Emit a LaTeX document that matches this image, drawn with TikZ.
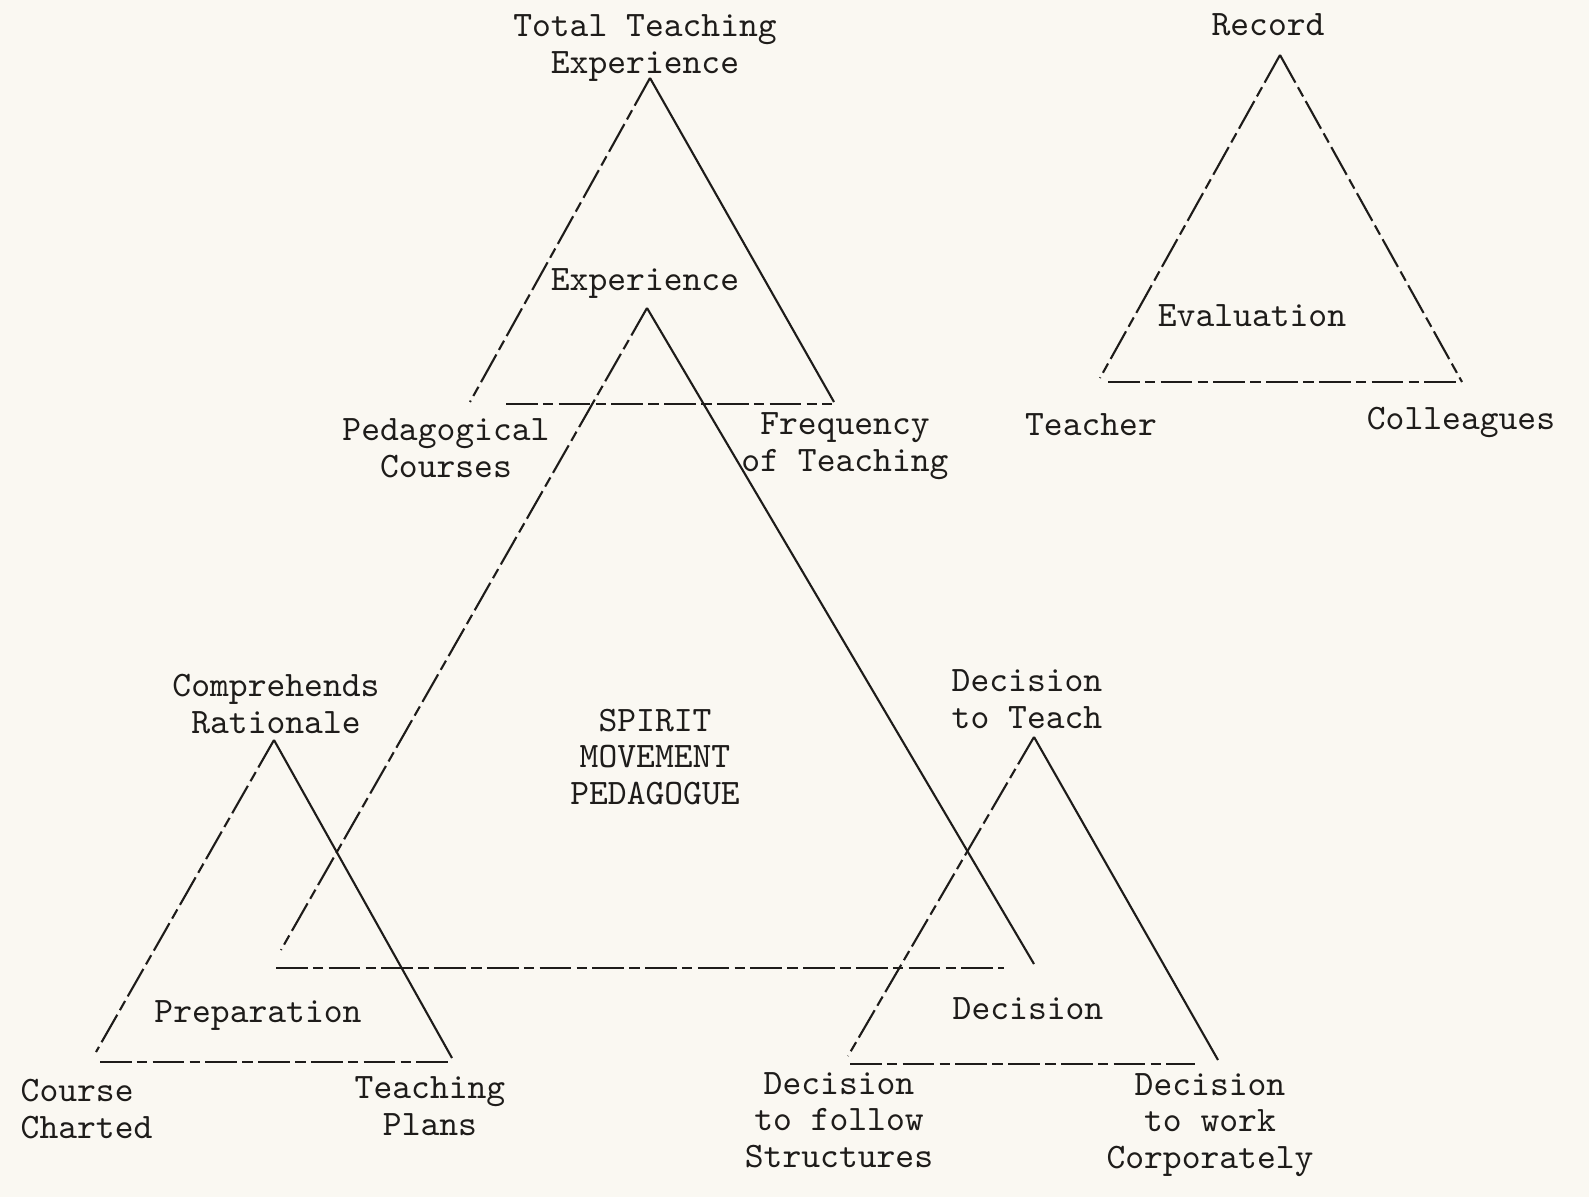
\documentclass[tikz,border=0pt]{standalone}
\usepackage{fontspec}
\usetikzlibrary{positioning}
\definecolor{paper}{RGB}{250,248,242}
\definecolor{ink}{RGB}{30,28,26}
\tikzset{lbl/.style={font=\ttfamily\fontsize{10.2}{10.4}\selectfont\addfontfeatures{FakeBold=1.2},align=center,inner sep=0pt,text=ink},
  solidside/.style={draw=ink,line width=0.6pt},
  brokenside/.style={draw=ink,line width=0.6pt,dash pattern=on 9pt off 1.5pt on 3pt off 1.5pt}}

\begin{document}
\begin{tikzpicture}[x=0.1mm,y=-0.1mm]
\fill[paper] (0,0) rectangle (1589,1197);
\useasboundingbox (0,0) rectangle (1589,1197);
% Total teaching experience
\coordinate (tA) at (650,78); \coordinate (tL) at (470,402); \coordinate (tR) at (834,402);
\coordinate (tB1) at (506,404); \coordinate (tB2) at (832,404);
\draw[brokenside] (tA)--(tL); \draw[solidside] (tA)--(tR); \draw[brokenside] (tB1)--(tB2);
% spirit movement pedagogue
\coordinate (sA) at (647,308); \coordinate (sL) at (281,950); \coordinate (sR) at (1034,964);
\coordinate (sB1) at (276,968); \coordinate (sB2) at (1004,968);
\draw[brokenside] (sA)--(sL); \draw[solidside] (sA)--(sR); \draw[brokenside] (sB1)--(sB2);
% record
\coordinate (rA) at (1280,55); \coordinate (rL) at (1100,378); \coordinate (rR) at (1462,382);
\coordinate (rB1) at (1108,382); \coordinate (rB2) at (1460,382);
\draw[brokenside] (rA)--(rL); \draw[brokenside] (rA)--(rR); \draw[brokenside] (rB1)--(rB2);
% preparation
\coordinate (pA) at (274,740); \coordinate (pL) at (96,1052); \coordinate (pR) at (452,1058);
\coordinate (pB1) at (100,1062); \coordinate (pB2) at (448,1062);
\draw[brokenside] (pA)--(pL); \draw[solidside] (pA)--(pR); \draw[brokenside] (pB1)--(pB2);
% decision
\coordinate (dA) at (1034,737); \coordinate (dL) at (848,1056); \coordinate (dR) at (1218,1060);
\coordinate (dB1) at (850,1064); \coordinate (dB2) at (1195,1064);
\draw[brokenside] (dA)--(dL); \draw[solidside] (dA)--(dR); \draw[brokenside] (dB1)--(dB2);
% labels
\node[lbl] (total) at (645,48) {Total Teaching\\Experience};
\node[lbl] (exp) at (645,284) {Experience};
\node[lbl] (pedc) at (446,448) {Pedagogical\\Courses};
\node[lbl] (freq) at (845,446) {Frequency\\of Teaching};
\node[lbl] (rec) at (1268,25) {Record};
\node[lbl] (eval) at (1252,316) {Evaluation};
\node[lbl] (teach) at (1091,425) {Teacher};
\node[lbl] (coll) at (1461,422) {Colleagues};
\node[lbl] (comp) at (276,704) {Comprehends\\Rationale};
\node[lbl] (spirit) at (655,757) {SPIRIT\\MOVEMENT\\PEDAGOGUE};
\node[lbl] (dteach) at (1027,699) {Decision\\to Teach};
\node[lbl] (prep) at (258,1016) {Preparation};
\node[lbl] (dec) at (1028,1009) {Decision};
\node[lbl,align=left,anchor=west] (course) at (20,1109) {Course\\Charted};
\node[lbl] (tplans) at (430,1106) {Teaching\\Plans};
\node[lbl] (dfollow) at (839,1120) {Decision\\to follow\\Structures};
\node[lbl] (dwork) at (1210,1125) {Decision\\to work\\Corporately};
\end{tikzpicture}
\end{document}
